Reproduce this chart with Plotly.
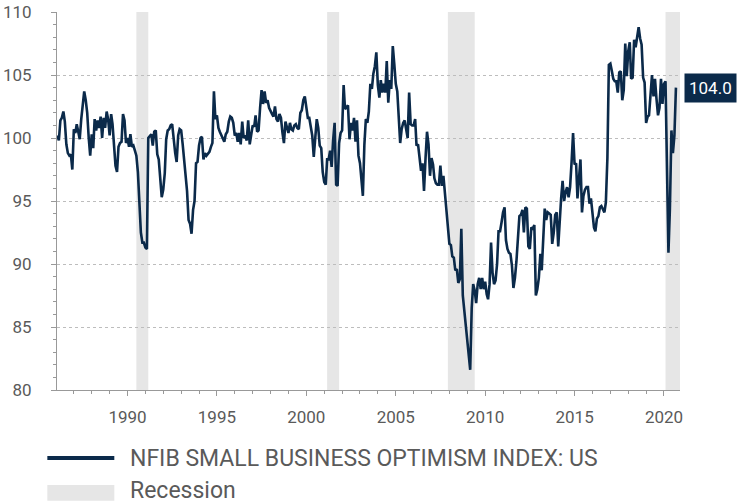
import pandas as pd
import plotly.graph_objects as go

# NFIB Small Business Optimism Index, monthly, Feb 1986 - Sep 2020
first_month = "1986-02-01"
values_1980s = [
    100.2, 99.8, 101.4, 101.6, 102.1, 101.3, 99.5, 98.8, 98.6, 98.7, 97.5,           # 1986 Feb-Dec
    100.7, 100.4, 101.1, 100.5, 99.9, 101.5, 102.5, 103.7, 103.0, 102.0, 100.0, 98.6, # 1987
    100.3, 99.2, 101.5, 100.6, 101.4, 100.8, 101.7, 100.0, 101.6, 100.8, 102.1, 101.5, # 1988
    100.2, 101.9, 101.1, 99.5, 97.8, 97.3, 99.3, 99.6, 99.7, 101.9, 101.4, 99.6,      # 1989
]
values_1990s = [
    100.0, 99.3, 100.3, 99.3, 99.4, 99.0, 98.6, 97.3, 94.8, 92.5, 91.7, 91.7,         # 1990
    91.3, 91.2, 100.0, 100.2, 100.3, 99.4, 100.5, 100.6, 98.7, 98.3, 96.4, 95.3,      # 1991
    95.9, 97.2, 99.9, 100.6, 100.7, 101.0, 101.1, 99.6, 98.8, 98.1, 100.2, 100.7,     # 1992
    100.6, 99.5, 98.5, 97.2, 95.8, 93.5, 93.2, 92.4, 94.3, 95.0, 98.0, 98.1,          # 1993
    99.4, 100.0, 100.1, 98.3, 98.8, 98.6, 98.8, 98.9, 99.3, 99.6, 103.7, 101.5,       # 1994
    101.8, 100.8, 100.5, 100.2, 99.9, 99.7, 100.3, 100.5, 101.3, 101.7, 101.6, 101.2, # 1995
    100.2, 100.4, 99.7, 100.4, 99.5, 101.3, 100.0, 100.2, 99.8, 101.4, 99.5, 100.4,   # 1996
    101.0, 100.9, 101.8, 100.5, 100.6, 102.4, 103.8, 102.7, 103.7, 102.8, 103.0, 102.4, # 1997
    102.1, 101.9, 101.7, 102.5, 101.5, 101.3, 101.9, 101.6, 100.4, 99.6, 101.3, 100.9, # 1998
    100.4, 101.2, 100.7, 100.6, 101.0, 101.1, 100.8, 100.7, 102.0, 102.2, 103.0, 103.3, # 1999
]
values_2000s = [
    102.6, 101.6, 101.6, 100.7, 100.2, 98.5, 100.3, 101.5, 100.8, 99.4, 99.2, 97.3,   # 2000
    96.5, 96.3, 98.3, 98.3, 99.0, 97.7, 99.8, 101.2, 96.3, 96.2, 99.6, 100.4,         # 2001
    100.6, 104.2, 102.3, 102.4, 102.6, 99.9, 101.2, 100.6, 101.6, 99.7, 101.4, 98.6,  # 2002
    98.0, 96.2, 95.4, 99.5, 101.5, 101.2, 102.1, 104.3, 103.9, 105.1, 105.7, 106.8,   # 2003
    104.2, 103.2, 104.6, 103.6, 104.3, 103.6, 106.1, 102.8, 104.6, 103.9, 107.3, 105.9, # 2004
    104.3, 103.7, 102.0, 99.6, 100.7, 101.2, 101.4, 100.7, 100.0, 103.6, 101.1, 101.0, # 2005
    101.0, 101.5, 99.4, 99.5, 98.5, 97.4, 98.0, 95.8, 98.4, 100.5, 99.5, 97.0,        # 2006
    98.4, 97.9, 96.8, 96.4, 96.3, 96.3, 97.8, 96.2, 97.0, 95.6, 94.3, 93.3,           # 2007
    91.6, 91.5, 90.6, 90.5, 89.5, 89.6, 88.5, 88.8, 92.8, 87.5, 86.2, 84.9,           # 2008
    83.8, 82.6, 81.6, 86.5, 88.4, 87.9, 86.9, 88.4, 88.9, 88.0, 88.9, 88.0,           # 2009
]
values_2010s = [
    88.6, 87.6, 87.2, 88.4, 91.7, 89.3, 88.4, 88.7, 90.0, 92.6, 92.6, 93.3,           # 2010
    94.1, 94.5, 91.9, 91.2, 90.9, 90.8, 89.9, 88.1, 88.9, 90.2, 92.0, 93.8,           # 2011
    93.9, 94.3, 92.5, 94.5, 94.4, 91.4, 91.2, 92.9, 92.8, 93.1, 87.5, 88.0,           # 2012
    88.9, 90.8, 89.5, 92.1, 94.4, 93.5, 94.1, 94.0, 93.9, 91.6, 92.5, 93.9,           # 2013
    94.1, 91.4, 93.4, 95.2, 96.6, 95.0, 95.7, 96.1, 95.3, 96.1, 98.1, 100.4,          # 2014
    97.9, 98.0, 95.2, 96.9, 98.3, 94.1, 95.4, 95.9, 96.1, 96.1, 94.8, 95.2,           # 2015
    93.9, 92.9, 92.6, 93.6, 93.8, 94.5, 94.6, 94.4, 94.1, 94.9, 98.4, 105.8,          # 2016
    105.9, 105.3, 104.7, 104.5, 104.5, 103.6, 105.2, 105.3, 103.0, 103.8, 107.5, 104.9, # 2017
    106.9, 107.6, 104.7, 104.8, 107.8, 107.2, 107.9, 108.8, 107.9, 107.4, 104.8, 104.4, # 2018
    101.2, 101.7, 101.8, 103.5, 105.0, 103.3, 104.7, 103.1, 101.8, 102.4, 104.7, 102.7, # 2019
]
values_2020 = [104.3, 104.5, 96.4, 90.9, 94.4, 100.6, 98.8, 100.2, 104.0]

recession_starts = ["1990-07-01", "2001-03-01", "2007-12-01", "2020-02-01"]
recession_ends = ["1991-03-01", "2001-11-01", "2009-06-01", "2020-11-23"]

y_ticks = [80, 85, 90, 95, 100, 105, 110]
series_name = "NFIB SMALL BUSINESS OPTIMISM INDEX: US"
recession_name = "Recession"

values = values_1980s + values_1990s + values_2000s + values_2010s + values_2020
dates = pd.date_range(first_month, periods=len(values), freq="MS")

NAVY = "#0b2a4a"
SHADE = "#e6e6e6"
TEXT = "#5a5a5a"
FONT = "Roboto, sans-serif"

fig = go.Figure()
fig.add_trace(go.Scatter(x=dates, y=values, mode="lines",
                         line=dict(color=NAVY, width=2.6), showlegend=False,
                         hoverinfo="skip"))

for s, e in zip(recession_starts, recession_ends):
    fig.add_shape(type="rect", xref="x", yref="paper", x0=s, x1=e, y0=0, y1=1,
                  fillcolor=SHADE, line=dict(width=0), layer="below")

fig.update_layout(
    width=738, height=503,
    margin=dict(l=57, r=58, t=12, b=113, autoexpand=False),
    paper_bgcolor="white", plot_bgcolor="white",
    font=dict(family=FONT, size=17, color=TEXT),
    showlegend=False,
)
fig.update_xaxes(
    type="date", range=["1986-01-22", "2020-11-23"],
    tick0="1990-01-01", dtick="M60", tickformat="%Y",
    ticks="outside", ticklen=5, tickcolor="#999", tickwidth=1,
    minor=dict(dtick="M12", tick0="1990-01-01", ticks="outside", ticklen=3,
               tickcolor="#999", showgrid=False),
    showline=True, linecolor="#999", linewidth=1,
    showgrid=False, zeroline=False, automargin=False,
    ticklabelstandoff=7,
    tickfont=dict(family=FONT, size=17, color=TEXT),
)
fig.update_yaxes(
    range=[80, 110], tickvals=y_ticks,
    ticks="outside", ticklen=5, tickcolor="#999", tickwidth=1,
    minor=dict(dtick=1, ticks="outside", ticklen=3, tickcolor="#999", showgrid=False),
    showline=True, linecolor="#999", linewidth=1,
    showgrid=True, gridcolor="#bdbdbd", griddash="dot", gridwidth=1,
    zeroline=False, automargin=False,
    ticklabelstandoff=16,
    tickfont=dict(family=FONT, size=17, color=TEXT),
)

# end-value label
fig.add_annotation(x=1.0065, xref="paper", y=values[-1], yref="y",
                   text=f"{values[-1]:.1f}", showarrow=False, xanchor="left", yanchor="middle",
                   font=dict(family=FONT, size=17, color="white"),
                   bgcolor=NAVY, borderpad=4)

# legend drawn below the plot
fig.add_shape(type="line", xref="paper", yref="paper", x0=-0.0155, x1=0.092,
              y0=-0.18, y1=-0.18, line=dict(color=NAVY, width=4))
fig.add_annotation(x=0.114, xref="paper", y=-0.18, yref="paper", text=series_name,
                   showarrow=False, xanchor="left", yanchor="middle",
                   font=dict(family=FONT, size=23, color=TEXT))
fig.add_shape(type="rect", xref="paper", yref="paper", x0=-0.0155, x1=0.092,
              y0=-0.251, y1=-0.293, fillcolor=SHADE, line=dict(width=0))
fig.add_annotation(x=0.114, xref="paper", y=-0.267, yref="paper", text=recession_name,
                   showarrow=False, xanchor="left", yanchor="middle",
                   font=dict(family=FONT, size=23, color=TEXT))

# remove the default page margin so the figure sits at the window's corner
fig.write_html("out.html", config={"displayModeBar": False},
               post_script="document.body.style.margin='0';")
